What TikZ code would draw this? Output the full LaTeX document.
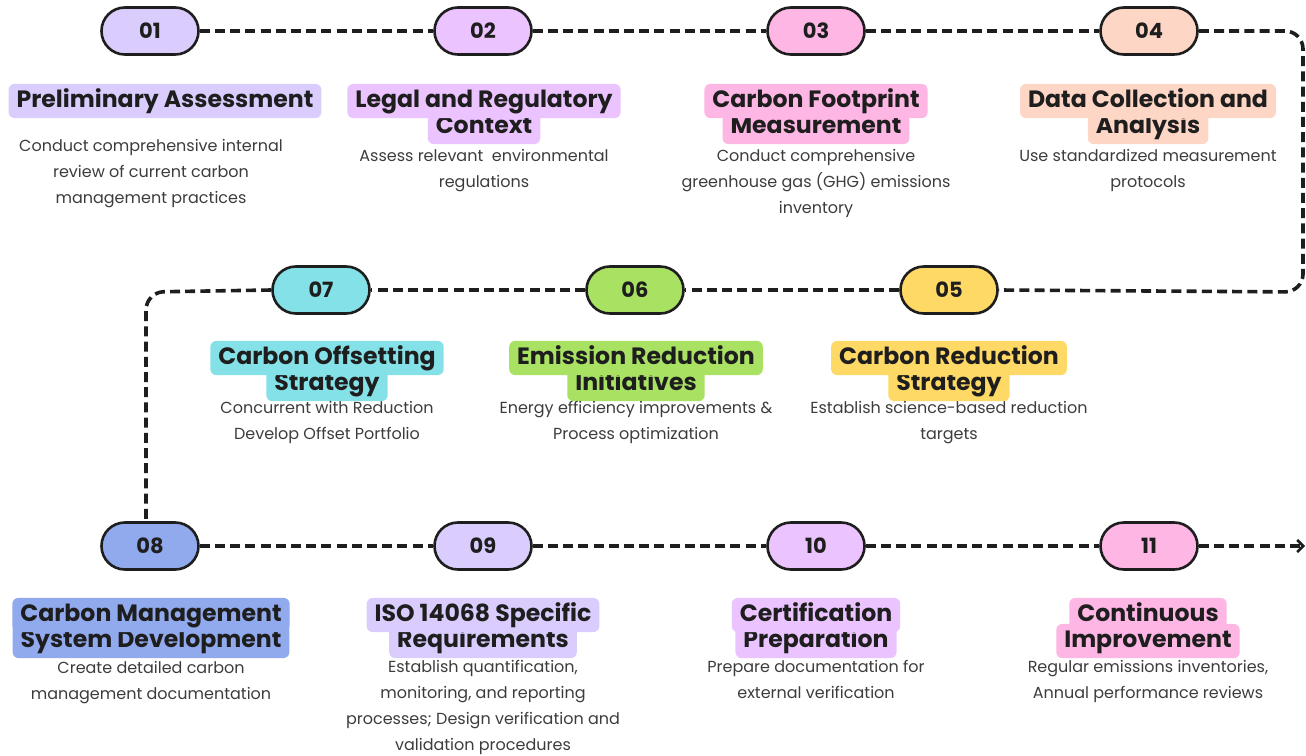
\documentclass[tikz,border=0pt]{standalone}
\usepackage{fontspec}
\setmainfont{Poppins}
\usepackage{tikz}
\usetikzlibrary{arrows.meta}

\definecolor{ink}{HTML}{1E1E1E}
\definecolor{txtgray}{HTML}{3C3C3C}
\definecolor{lavender}{HTML}{DACDFE}
\definecolor{lilac}{HTML}{EBC3FE}
\definecolor{rose}{HTML}{FEB6E4}
\definecolor{peach}{HTML}{FED6C5}
\definecolor{sun}{HTML}{FFD966}
\definecolor{lime}{HTML}{A9E163}
\definecolor{aqua}{HTML}{84E1E8}
\definecolor{cornflower}{HTML}{91A9ED}

\begin{document}
\begin{tikzpicture}[x=0.5pt,y=-0.5pt,
    pill/.style={draw=ink,line width=1.3pt,rounded corners=11.7pt,minimum width=48.5pt,minimum height=23.5pt,inner sep=0pt,font=\bfseries\fontsize{10.5}{12}\selectfont,text=ink},
    head/.style={rounded corners=3pt,inner xsep=4pt,inner ysep=2.8pt,text height=8.8pt,text depth=2.7pt,font=\bfseries\fontsize{11.8}{13}\selectfont,text=ink},
    desc/.style={anchor=north,inner sep=0pt,align=center,text=txtgray,font=\fontsize{8}{13}\selectfont},
    flow/.style={draw=ink,line width=1.8pt,dash pattern=on 5pt off 2.6pt}]
  \useasboundingbox (0,0) rectangle (1306,755);

  % step pills
  \node[pill,fill=lavender]   (p01) at (150,31)  {01};
  \node[pill,fill=lilac]      (p02) at (483,31)  {02};
  \node[pill,fill=rose]       (p03) at (816,31)  {03};
  \node[pill,fill=peach]      (p04) at (1149,31) {04};
  \node[pill,fill=sun]        (p05) at (949,290) {05};
  \node[pill,fill=lime]       (p06) at (635,290) {06};
  \node[pill,fill=aqua]       (p07) at (321,290) {07};
  \node[pill,fill=cornflower] (p08) at (150,546) {08};
  \node[pill,fill=lavender]   (p09) at (483,546) {09};
  \node[pill,fill=lilac]      (p10) at (816,546) {10};
  \node[pill,fill=rose]       (p11) at (1149,546) {11};

  % dashed route
  \coordinate (bendA) at (1303,31);
  \coordinate (bendB) at (1303,292);
  \coordinate (bendC) at (146,292);
  \coordinate (tail)  at (1305,546);
  \draw[flow] (p01.east) -- (p02.west);
  \draw[flow] (p02.east) -- (p03.west);
  \draw[flow] (p03.east) -- (p04.west);
  \draw[flow,rounded corners=9pt] (p04.east) -- (bendA) -- (bendB) -- (p05.east);
  \draw[flow] (p05.west) -- (p06.east);
  \draw[flow] (p06.west) -- (p07.east);
  \draw[flow,rounded corners=9pt] (p07.west) -- (bendC) -- (bendC |- p08.north);
  \draw[flow] (p08.east) -- (p09.west);
  \draw[flow] (p09.east) -- (p10.west);
  \draw[flow] (p10.east) -- (p11.west);
  \draw[flow,-{Straight Barb[length=3pt,width=6pt,line width=1.3pt]}] (p11.east) -- (tail);

  % headings (second line first, so the first line stays on top)
  \node[head,fill=lavender] (h01) at (165,101) {Preliminary Assessment};
  \node[head,fill=lilac] (h02b) at (484,127) {Context};
  \node[head,fill=lilac] (h02a) at (484,101) {Legal and Regulatory};
  \node[head,fill=rose] (h03b) at (816,127) {Measurement};
  \node[head,fill=rose] (h03a) at (816,101) {Carbon Footprint};
  \node[head,fill=peach] (h04b) at (1148,127) {Analysis};
  \node[head,fill=peach] (h04a) at (1148,101) {Data Collection and};
  \node[head,fill=aqua] (h07b) at (327,384) {Strategy};
  \node[head,fill=aqua] (h07a) at (327,358) {Carbon Offsetting};
  \node[head,fill=lime] (h06b) at (636,384) {Initiatives};
  \node[head,fill=lime] (h06a) at (636,358) {Emission Reduction};
  \node[head,fill=sun] (h05b) at (949,384) {Strategy};
  \node[head,fill=sun] (h05a) at (949,358) {Carbon Reduction};
  \node[head,fill=cornflower] (h08b) at (151,641) {System Development};
  \node[head,fill=cornflower] (h08a) at (151,615) {Carbon Management};
  \node[head,fill=lavender] (h09b) at (483,641) {Requirements};
  \node[head,fill=lavender] (h09a) at (483,615) {ISO 14068 Specific};
  \node[head,fill=lilac] (h10b) at (816,641) {Preparation};
  \node[head,fill=lilac] (h10a) at (816,615) {Certification};
  \node[head,fill=rose] (h11b) at (1148,641) {Improvement};
  \node[head,fill=rose] (h11a) at (1148,615) {Continuous};

  % descriptions
  \node[desc] (d01) at (151,139) {Conduct comprehensive internal\\review of current carbon\\management practices};
  \node[desc] (d02) at (484,149) {Assess relevant\ \ environmental\\regulations};
  \node[desc] (d03) at (816,149) {Conduct comprehensive\\greenhouse gas (GHG) emissions\\inventory};
  \node[desc] (d04) at (1148,149) {Use standardized measurement\\protocols};
  \node[desc] (d07) at (327,401) {Concurrent with Reduction\\Develop Offset Portfolio};
  \node[desc] (d06) at (636,401) {Energy efficiency improvements \&\\Process optimization};
  \node[desc] (d05) at (949,401) {Establish science-based reduction\\targets};
  \node[desc] (d08) at (151,661) {Create detailed carbon\\management documentation};
  \node[desc] (d09) at (483,660) {Establish quantification,\\monitoring, and reporting\\processes; Design verification and\\validation procedures};
  \node[desc] (d10) at (816,660) {Prepare documentation for\\external verification};
  \node[desc] (d11) at (1148,660) {Regular emissions inventories,\\Annual performance reviews};
\end{tikzpicture}
\end{document}
